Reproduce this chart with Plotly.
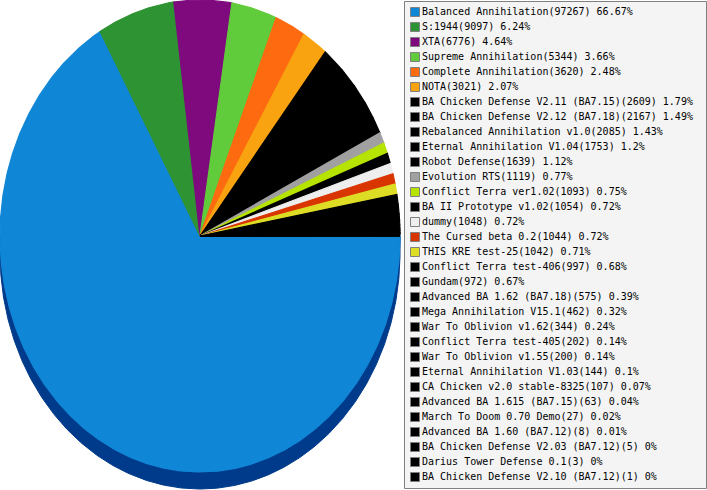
import math
import plotly.graph_objects as go

# ---------------- data ----------------
labels = [
    "Balanced Annihilation", "S:1944", "XTA", "Supreme Annihilation",
    "Complete Annihilation", "NOTA", "BA Chicken Defense V2.11 (BA7.15)",
    "BA Chicken Defense V2.12 (BA7.18)", "Rebalanced Annihilation v1.0",
    "Eternal Annihilation V1.04", "Robot Defense", "Evolution RTS",
    "Conflict Terra ver1.02", "BA II Prototype v1.02", "dummy",
    "The Cursed beta 0.2", "THIS KRE test-25", "Conflict Terra test-406",
    "Gundam", "Advanced BA 1.62 (BA7.18)", "Mega Annihilation V15.1",
    "War To Oblivion v1.62", "Conflict Terra test-405", "War To Oblivion v1.55",
    "Eternal Annihilation V1.03", "CA Chicken v2.0 stable-8325",
    "Advanced BA 1.615 (BA7.15)", "March To Doom 0.70 Demo",
    "Advanced BA 1.60 (BA7.12)", "BA Chicken Defense V2.03 (BA7.12)",
    "Darius Tower Defense 0.1", "BA Chicken Defense V2.10 (BA7.12)",
]
counts = [
    97267, 9097, 6776, 5344, 3620, 3021, 2609, 2167, 2085, 1753, 1639, 1119,
    1093, 1054, 1048, 1044, 1042, 997, 972, 575, 462, 344, 202, 200, 144,
    107, 63, 27, 8, 5, 3, 1,
]
colors = [
    "#1086d6", "#2e9332", "#7e0a7e", "#61cc3b", "#fd6a10", "#f8a30f",
    "#000000", "#000000", "#000000", "#000000", "#000000", "#a0a0a0",
    "#b6e300", "#000000", "#eeeeee", "#d93500", "#dddd25", "#000000",
    "#000000", "#000000", "#000000", "#000000", "#000000", "#000000",
    "#000000", "#000000", "#000000", "#000000", "#000000", "#000000",
    "#000000", "#000000",
]

# ---------------- geometry / style ----------------
W, H = 707, 490
CX, CY, RX, RY, DEPTH = 200, 236, 200, 236, 17
SIDE_COLOR = {0: "#003a8a"}


def darken(hexc, f=0.5):
    r, g, b = (int(hexc[i:i + 2], 16) for i in (1, 3, 5))
    return "#%02x%02x%02x" % (int(r * f), int(g * f), int(b * f))


def pt(t, dy=0.0):
    return CX + RX * math.cos(t), CY + RY * math.sin(t) + dy


total = sum(counts)
percents = [round(c / total * 100, 2) for c in counts]
legend_text = [f"{l}({c}) {p:g}%" for l, c, p in zip(labels, counts, percents)]

fig = go.Figure()

# angular extents (clockwise from 3 o'clock, screen y downward)
bounds = []
acc = 0
for c in counts:
    t0 = acc / total * 2 * math.pi
    acc += c
    t1 = acc / total * 2 * math.pi
    bounds.append((t0, t1))

# side (3D rim) of the slices in the front half
for i, (t0, t1) in enumerate(bounds):
    a, b = max(t0, 0.0), min(t1, math.pi)
    if b <= a:
        continue
    n = max(2, int(math.degrees(b - a) * 2) + 2)
    ts = [a + (b - a) * k / (n - 1) for k in range(n)]
    top = [pt(t) for t in ts]
    bot = [pt(t, DEPTH) for t in reversed(ts)]
    xs = [p[0] for p in top + bot] + [top[0][0]]
    ys = [p[1] for p in top + bot] + [top[0][1]]
    side = SIDE_COLOR.get(i, darken(colors[i]))
    fig.add_trace(go.Scatter(
        x=xs, y=ys, mode="lines", fill="toself", fillcolor=side,
        line=dict(width=1, color=side), hoverinfo="skip", showlegend=False))

# top faces of the slices
for i, (t0, t1) in enumerate(bounds):
    n = max(2, int(math.degrees(t1 - t0) * 2) + 2)
    ts = [t0 + (t1 - t0) * k / (n - 1) for k in range(n)]
    arc = [pt(t) for t in ts]
    xs = [CX] + [p[0] for p in arc] + [CX]
    ys = [CY] + [p[1] for p in arc] + [CY]
    fig.add_trace(go.Scatter(
        x=xs, y=ys, mode="lines", fill="toself", fillcolor=colors[i],
        line=dict(width=1.2, color=colors[i]),
        name=legend_text[i], text=legend_text[i], hoverinfo="text",
        hoveron="fills", showlegend=False))

# ---------------- legend (drawn on the same pixel axes) ----------------
LEG_X0, LEG_X1, LEG_Y0, LEG_Y1 = 404, 706, 1, 488
ROW0, ROWH = 12, 15
SQ_X, TXT_X = 415, 422
rows = [ROW0 + ROWH * i for i in range(len(labels))]

fig.add_shape(type="rect", xref="x", yref="y",
              x0=LEG_X0 + 0.5, x1=LEG_X1 + 0.5, y0=LEG_Y0 + 0.5, y1=LEG_Y1 + 0.5,
              fillcolor="#f4f4f4", line=dict(color="#808080", width=1),
              layer="below")

fig.add_trace(go.Scatter(
    x=[SQ_X] * len(labels), y=rows, mode="markers",
    marker=dict(symbol="square", size=9, color=colors,
                line=dict(color="#808080", width=1)),
    hoverinfo="skip", showlegend=False))

fig.add_trace(go.Scatter(
    x=[TXT_X] * len(labels), y=rows, mode="text", text=legend_text,
    textposition="middle right", cliponaxis=False,
    textfont=dict(family="DejaVu Sans Mono", size=10, color="#000000"),
    hoverinfo="skip", showlegend=False))

fig.update_layout(
    width=W, height=H,
    margin=dict(l=0, r=0, t=0, b=0),
    paper_bgcolor="white", plot_bgcolor="white",
    xaxis=dict(range=[0, W], visible=False, fixedrange=True),
    yaxis=dict(range=[H, 0], visible=False, fixedrange=True),
    showlegend=False,
)

fig.write_html(
    "out.html",
    config={"displayModeBar": False},
    post_script="document.body.style.margin='0';document.body.style.overflow='hidden';",
)
